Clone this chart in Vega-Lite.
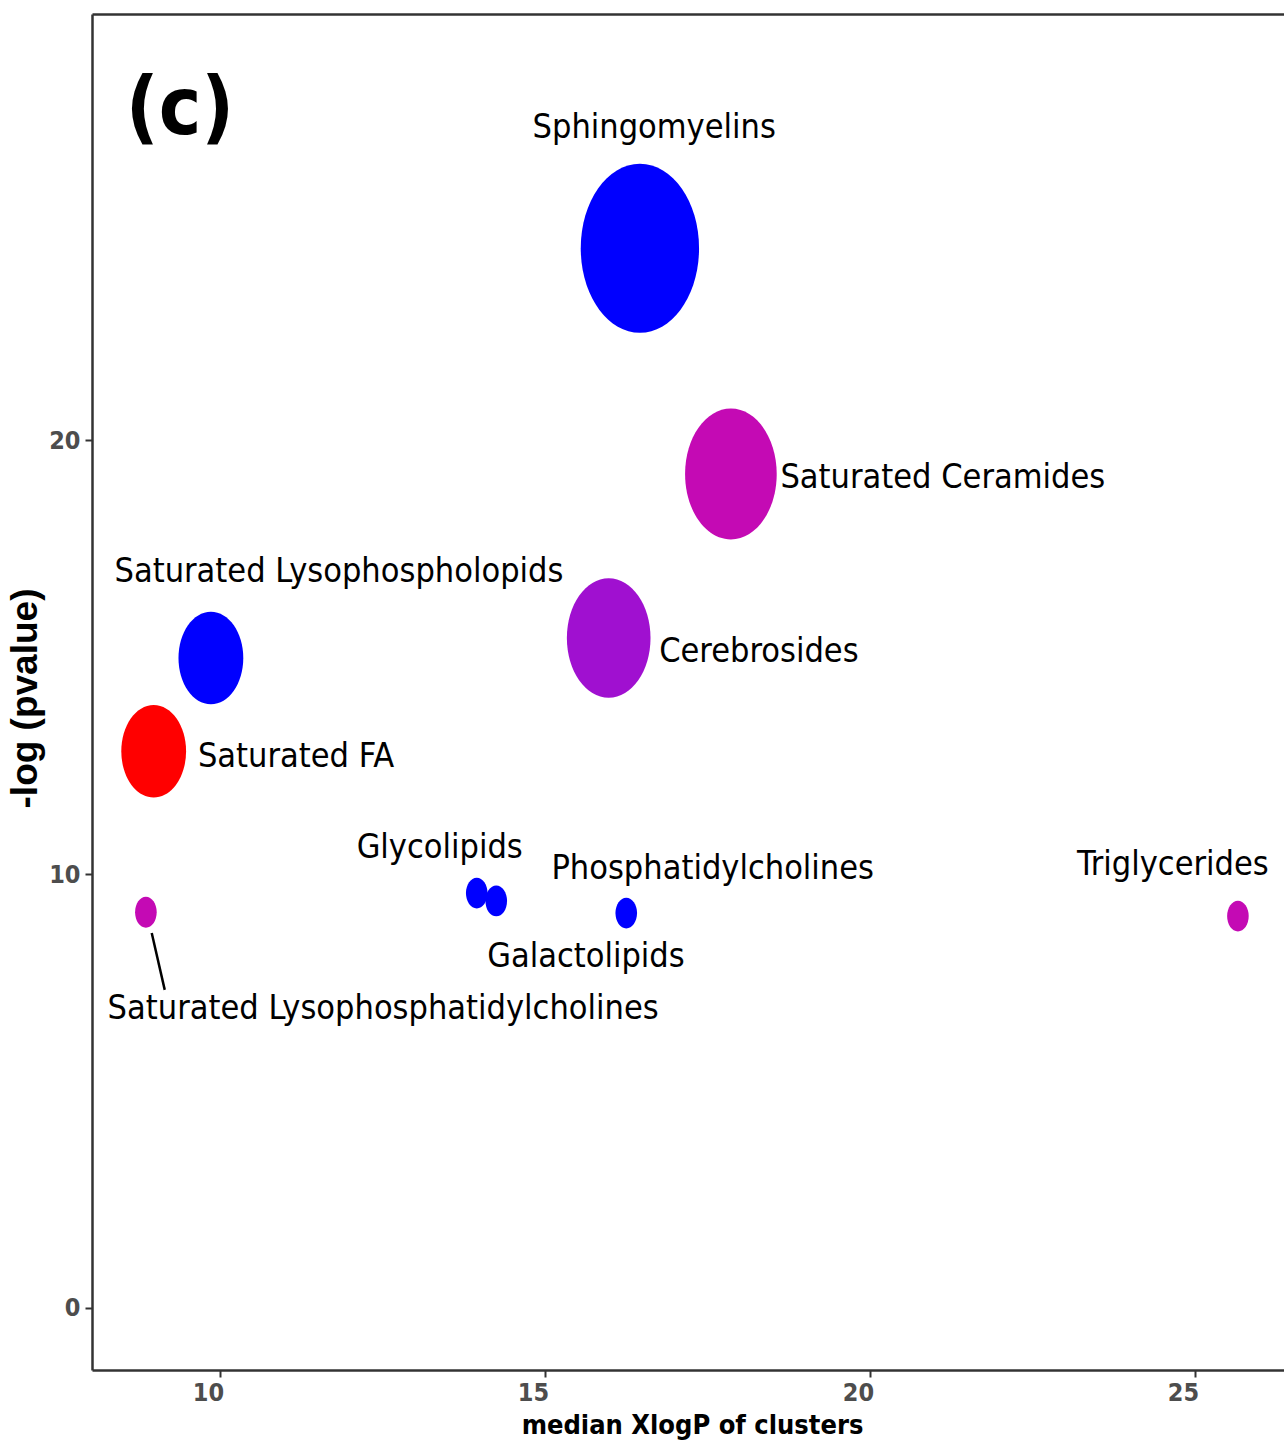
{
  "$schema": "https://vega.github.io/schema/vega-lite/v6.json",
  "width": 1192,
  "height": 1356,
  "autosize": {"type": "none"},
  "padding": {"left": 92, "top": 14, "right": 0, "bottom": 77},
  "background": "white",
  "config": {"view": {"stroke": null}, "axis": {"grid": false}},
  "datasets": {
    "clusters": [
      {"cluster": "Sphingomyelins", "xlogp": 16.46, "nlogp": 24.42, "n": 30, "ratio": 0, "lx": 16.68, "ly": 27.19},
      {"cluster": "Saturated Ceramides", "xlogp": 17.86, "nlogp": 19.22, "n": 18, "ratio": 0.4, "lx": 21.12, "ly": 19.12},
      {"cluster": "Cerebrosides", "xlogp": 15.98, "nlogp": 15.44, "n": 15, "ratio": 0.2, "lx": 18.29, "ly": 15.12},
      {"cluster": "Saturated Lysophospholopids", "xlogp": 9.86, "nlogp": 14.98, "n": 9, "ratio": 0, "lx": 11.83, "ly": 16.96},
      {"cluster": "Saturated FA", "xlogp": 8.98, "nlogp": 12.83, "n": 9, "ratio": 1, "lx": 11.17, "ly": 12.7},
      {"cluster": "Saturated Lysophosphatidylcholines", "xlogp": 8.86, "nlogp": 9.12, "n": 1, "ratio": 0.4, "lx": 12.51, "ly": 6.89, "sx": 8.95, "sy": 8.64, "sx2": 9.15, "sy2": 7.33},
      {"cluster": "Glycolipids", "xlogp": 13.95, "nlogp": 9.56, "n": 1, "ratio": 0, "lx": 13.38, "ly": 10.6},
      {"cluster": "Galactolipids", "xlogp": 14.25, "nlogp": 9.38, "n": 1, "ratio": 0, "lx": 15.63, "ly": 8.09},
      {"cluster": "Phosphatidylcholines", "xlogp": 16.25, "nlogp": 9.10, "n": 1, "ratio": 0, "lx": 17.58, "ly": 10.12},
      {"cluster": "Triglycerides", "xlogp": 25.66, "nlogp": 9.03, "n": 1, "ratio": 0.4, "lx": 24.66, "ly": 10.21}
    ],
    "panel": [{"tag": "(c)", "tx": 9.385, "ty": 27.6}]
  },
  "layer": [
    {
      "data": {"name": "clusters"},
      "mark": {"type": "point", "filled": true, "opacity": 1, "strokeWidth": 0, "shape": "M-0.7,0A0.7,1 0 1,1 0.7,0A0.7,1 0 1,1 -0.7,0Z"},
      "encoding": {
        "x": {
          "field": "xlogp", "type": "quantitative",
          "scale": {"domain": [8.031, 26.369], "nice": false, "zero": false},
          "axis": {
            "orient": "bottom", "values": [10, 15, 20, 25], "title": "median XlogP of clusters",
            "domainColor": "#333333", "domainWidth": 2.5, "ticks": true, "tickColor": "#333333", "tickWidth": 2, "tickSize": 7,
            "labelFont": "'DejaVu Sans Condensed', 'Liberation Sans', sans-serif", "labelFontWeight": "bold", "labelFontSize": 25, "labelColor": "#4D4D4D",
            "labelPadding": 3, "labelOffset": -12,
            "titleFont": "'DejaVu Sans Condensed', 'Liberation Sans', sans-serif", "titleFontWeight": "bold", "titleFontSize": 27, "titleColor": "black",
            "titleX": 600, "titleY": 42, "titleBaseline": "top", "titleAlign": "center"
          }
        },
        "y": {
          "field": "nlogp", "type": "quantitative",
          "scale": {"domain": [-1.43, 29.82], "nice": false, "zero": false},
          "axis": {
            "values": [0, 10, 20], "title": "-log (pvalue)",
            "domainColor": "#333333", "domainWidth": 2.5, "ticks": true, "tickColor": "#333333", "tickWidth": 2, "tickSize": 7,
            "labelFont": "'DejaVu Sans Condensed', 'Liberation Sans', sans-serif", "labelFontWeight": "bold", "labelFontSize": 25, "labelColor": "#4D4D4D",
            "labelPadding": 5,
            "titleFont": "'Liberation Sans', sans-serif", "titleFontWeight": "bold", "titleFontSize": 37, "titleColor": "black",
            "titleAngle": 270, "titleX": -67, "titleY": 684, "titleAlign": "center", "titleBaseline": "middle"
          }
        },
        "size": {"field": "n", "type": "quantitative", "scale": {"type": "linear", "domain": [0, 30], "range": [0, 28561], "zero": true}, "legend": null},
        "color": {"field": "ratio", "type": "quantitative", "scale": {"domain": [0, 0.2, 0.4, 1], "range": ["#0000FF", "#A010D0", "#C40AB4", "#FF0000"]}, "legend": null}
      }
    },
    {
      "data": {"name": "clusters"},
      "transform": [{"filter": "isValid(datum.sx)"}],
      "mark": {"type": "rule", "color": "black", "strokeWidth": 2.5},
      "encoding": {
        "x": {"field": "sx", "type": "quantitative", "scale": {"domain": [8.031, 26.369], "nice": false, "zero": false}, "axis": null},
        "y": {"field": "sy", "type": "quantitative", "scale": {"domain": [-1.43, 29.82], "nice": false, "zero": false}},
        "x2": {"field": "sx2"},
        "y2": {"field": "sy2"}
      }
    },
    {
      "data": {"name": "clusters"},
      "mark": {"type": "text", "font": "'DejaVu Sans Condensed', 'Liberation Sans', sans-serif", "fontSize": 34, "color": "black", "align": "center", "baseline": "middle"},
      "encoding": {
        "x": {"field": "lx", "type": "quantitative", "scale": {"domain": [8.031, 26.369], "nice": false, "zero": false}, "axis": null},
        "y": {"field": "ly", "type": "quantitative", "scale": {"domain": [-1.43, 29.82], "nice": false, "zero": false}},
        "text": {"field": "cluster"}
      }
    },
    {
      "data": {"name": "panel"},
      "mark": {"type": "text", "font": "'DejaVu Sans Condensed', 'Liberation Sans', sans-serif", "fontWeight": "bold", "fontSize": 80, "color": "black", "align": "center", "baseline": "middle"},
      "encoding": {
        "x": {
          "field": "tx", "type": "quantitative",
          "scale": {"domain": [8.031, 26.369], "nice": false, "zero": false},
          "axis": {"orient": "top", "labels": false, "ticks": false, "title": null, "domainColor": "#333333", "domainWidth": 2.5}
        },
        "y": {"field": "ty", "type": "quantitative", "scale": {"domain": [-1.43, 29.82], "nice": false, "zero": false}},
        "text": {"field": "tag"}
      }
    }
  ],
  "resolve": {"axis": {"x": "independent"}}
}
